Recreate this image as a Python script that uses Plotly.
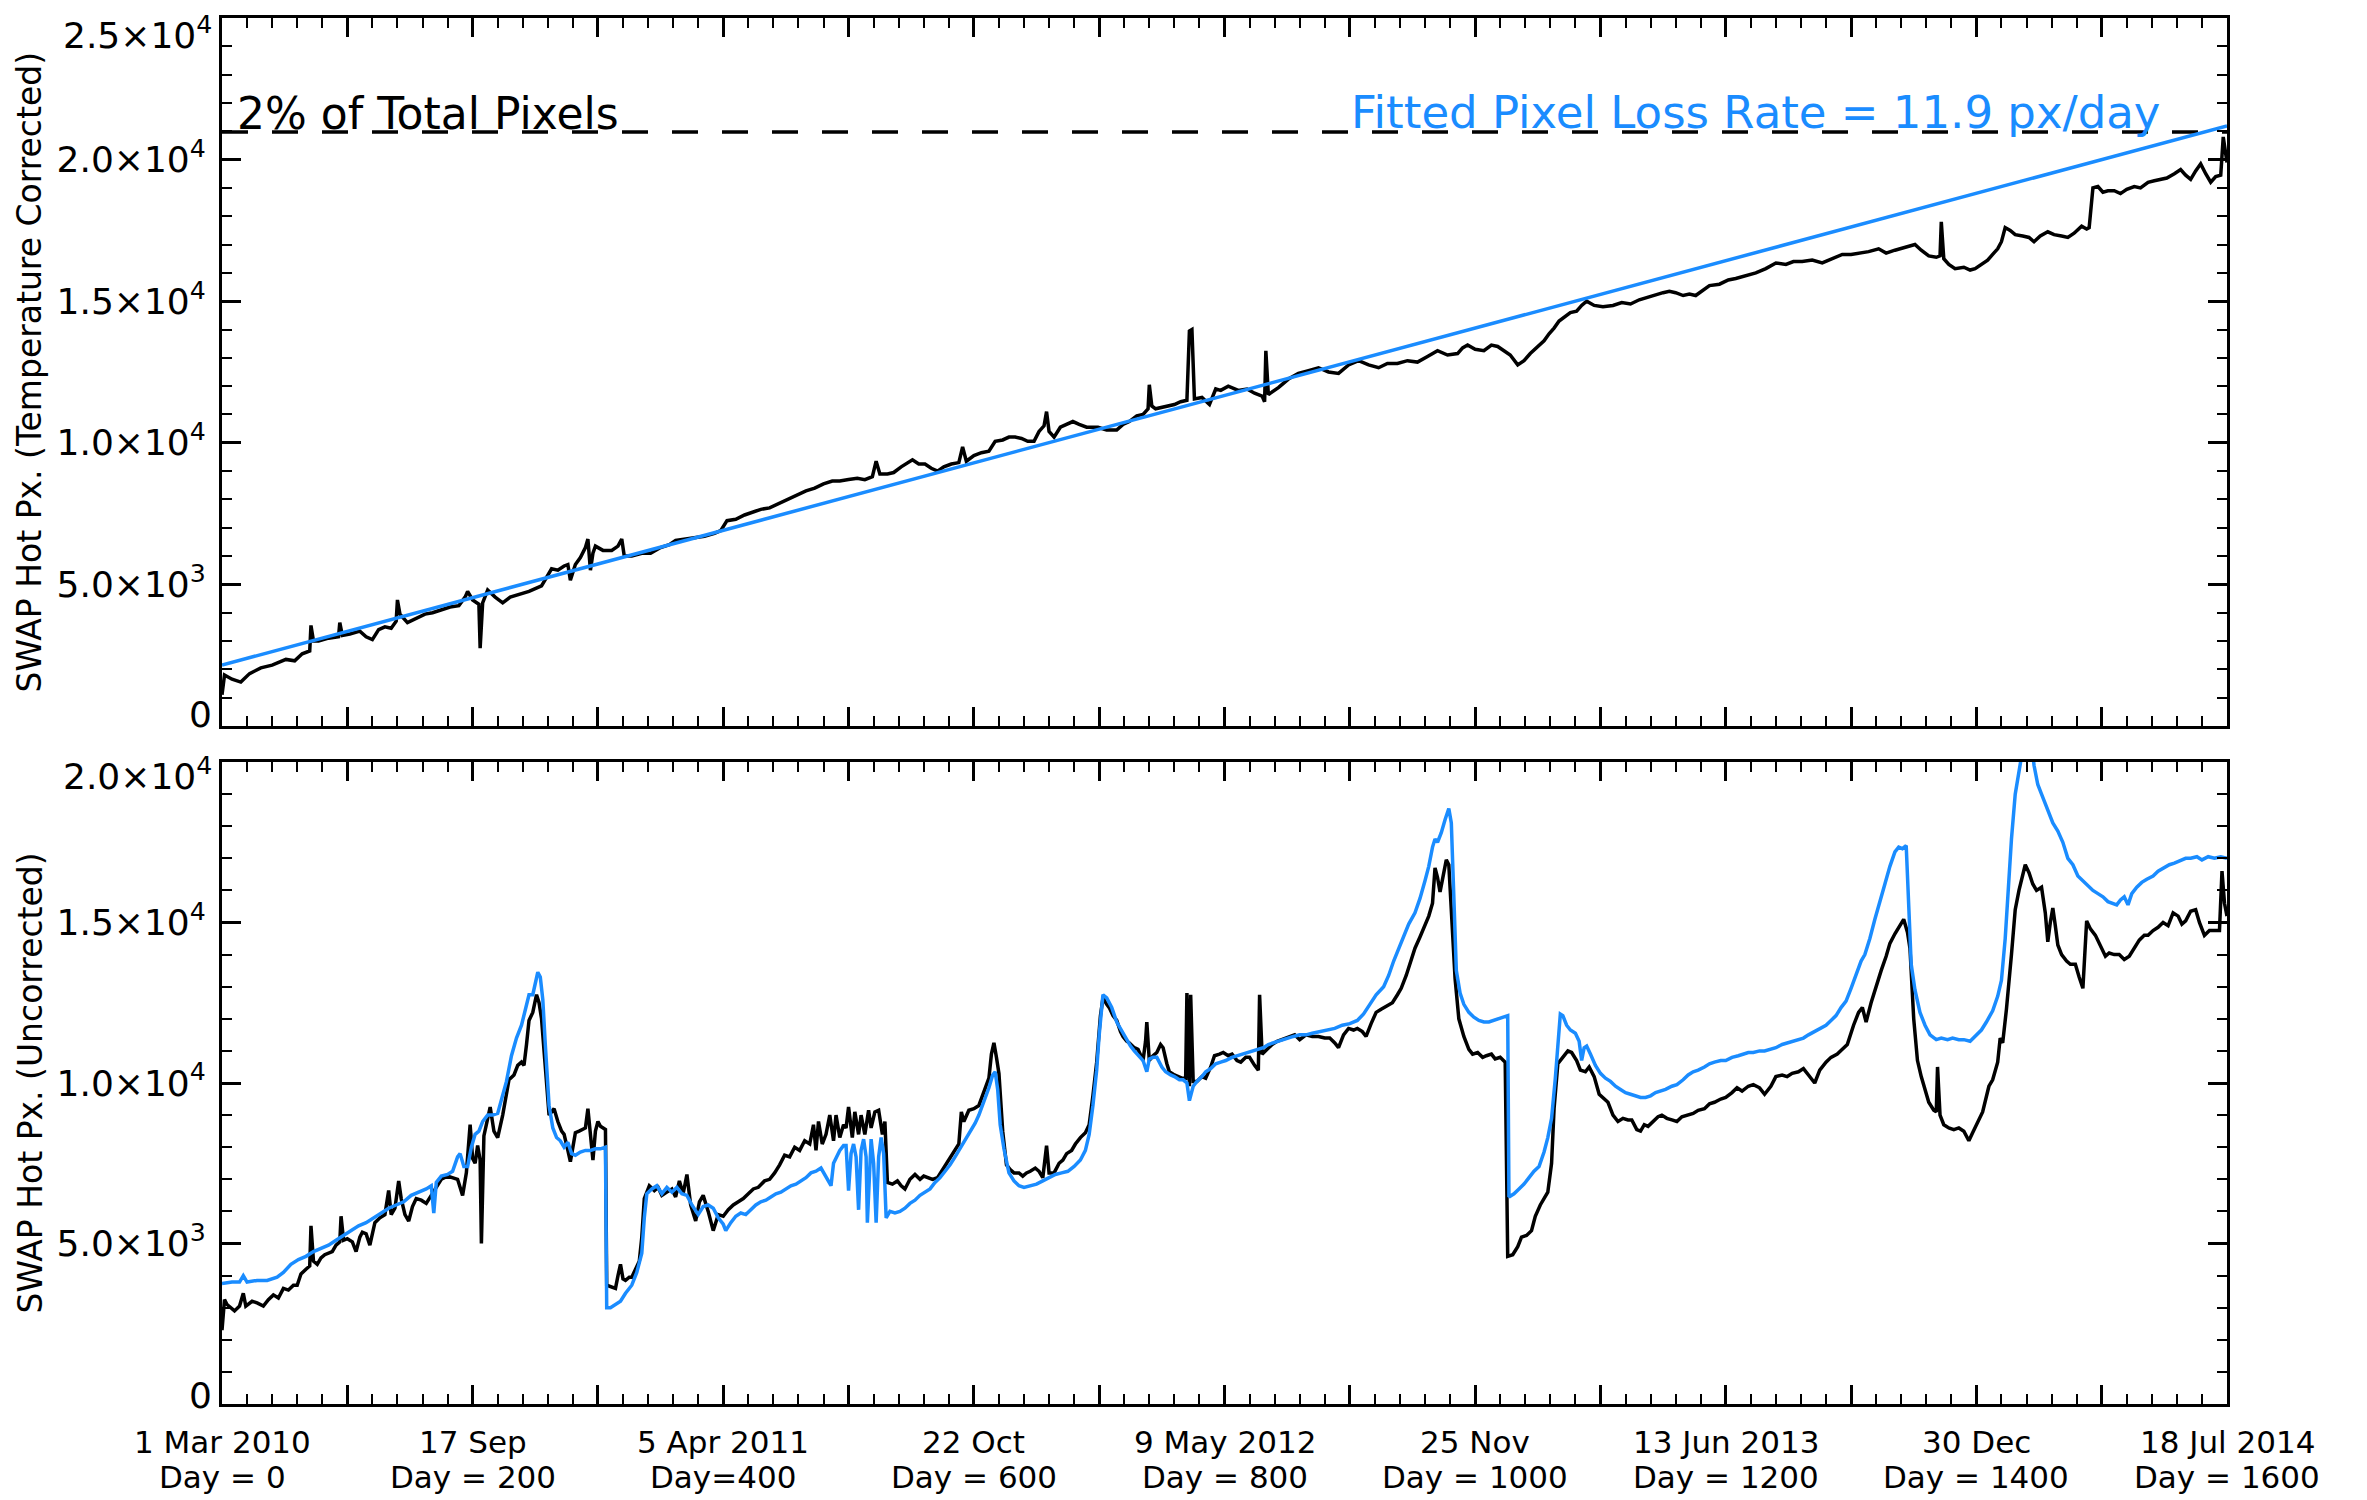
import plotly.graph_objects as go

BLUE = '#1a8cff'
FONT = 'DejaVu Sans'

# --- top panel: temperature corrected hot pixel count ---
corr_days = [0, 2, 8, 15, 22, 31, 40, 51, 58, 64, 70, 71, 73, 77, 85, 93, 94, 96, 102, 110,
             115, 120, 125, 130, 135, 139, 140, 142, 148, 155, 162, 168, 175, 182, 189, 194, 196, 200, 205, 206,
             208, 212, 218, 224, 230, 238, 245, 255, 260, 263, 268, 273, 276, 278, 282, 286, 290, 292, 294, 296,
             298, 304, 311, 316, 319, 321, 327, 335, 342, 350, 357, 362, 370, 378, 385, 393, 398, 403, 410, 417,
             423, 430, 437, 444, 451, 459, 466, 473, 480, 487, 493, 500, 507, 513, 519, 522, 525, 531, 536, 542,
             547, 551, 556, 561, 566, 571, 576, 582, 588, 591, 594, 600, 606, 612, 617, 623, 628, 633, 638, 643,
             648, 652, 656, 658, 660, 664, 669, 674, 679, 684, 690, 699, 706, 714, 719, 724, 730, 735, 739, 740,
             742, 745, 750, 755, 760, 765, 770, 772, 774, 776, 782, 788, 793, 797, 803, 811, 818, 824, 830, 832,
             833, 835, 843, 851, 859, 867, 875, 883, 891, 899, 907, 915, 923, 930, 938, 946, 954, 962, 970, 978,
             986, 990, 994, 1000, 1007, 1013, 1018, 1023, 1028, 1034, 1039, 1044, 1050, 1055, 1059, 1063, 1067, 1071, 1076, 1081,
             1085, 1089, 1095, 1102, 1110, 1117, 1124, 1131, 1138, 1145, 1150, 1155, 1160, 1166, 1171, 1176, 1182, 1187, 1195, 1202,
             1208, 1216, 1224, 1232, 1240, 1248, 1254, 1261, 1269, 1277, 1285, 1293, 1300, 1307, 1314, 1322, 1328, 1335, 1342, 1351,
             1356, 1362, 1368, 1371, 1372, 1374, 1378, 1383, 1390, 1395, 1399, 1404, 1409, 1413, 1417, 1420, 1423, 1427, 1431, 1437,
             1442, 1446, 1451, 1457, 1462, 1468, 1473, 1478, 1484, 1488, 1490, 1493, 1497, 1501, 1505, 1510, 1515, 1520, 1526, 1531,
             1537, 1542, 1547, 1552, 1558, 1563, 1567, 1571, 1575, 1579, 1583, 1587, 1591, 1595, 1597, 1598, 1600]
corr_px = [1100, 1800, 1650, 1550, 1850, 2050, 2150, 2350, 2300, 2550, 2650, 3550, 3000, 3000, 3100, 3150, 3650, 3200, 3250, 3350,
           3150, 3050, 3400, 3500, 3450, 3700, 4450, 3950, 3650, 3800, 3950, 4000, 4100, 4200, 4250, 4550, 4750, 4450, 4300, 2750,
           4350, 4800, 4550, 4350, 4550, 4650, 4750, 4950, 5300, 5550, 5500, 5650, 5700, 5150, 5700, 5950, 6300, 6600, 5500, 6100,
           6350, 6200, 6200, 6350, 6600, 6000, 6000, 6100, 6100, 6300, 6400, 6550, 6600, 6650, 6700, 6800, 6900, 7250, 7300, 7450,
           7550, 7650, 7700, 7850, 8000, 8150, 8300, 8400, 8550, 8650, 8650, 8700, 8750, 8700, 8800, 9350, 8900, 8900, 8950, 9150,
           9300, 9400, 9250, 9250, 9100, 9000, 9150, 9250, 9300, 9850, 9350, 9550, 9650, 9700, 10050, 10100, 10200, 10200, 10150, 10050,
           10050, 10400, 10600, 11100, 10400, 10200, 10550, 10650, 10750, 10650, 10550, 10550, 10450, 10450, 10650, 10750, 10950, 11000, 11200, 12050,
           11300, 11200, 11250, 11300, 11350, 11450, 11500, 13950, 14000, 11550, 11600, 11350, 11900, 11850, 12000, 11850, 11900, 11750, 11650, 11450,
           13250, 11700, 11950, 12250, 12450, 12550, 12650, 12500, 12450, 12750, 12900, 12750, 12650, 12800, 12800, 12900, 12850, 13050, 13250, 13100,
           13150, 13350, 13450, 13300, 13250, 13450, 13400, 13250, 13100, 12750, 12900, 13150, 13400, 13600, 13850, 14050, 14300, 14450, 14600, 14650,
           14850, 15000, 14850, 14800, 14850, 14950, 14900, 15050, 15150, 15250, 15300, 15350, 15300, 15200, 15250, 15200, 15400, 15550, 15600, 15750,
           15800, 15900, 16000, 16150, 16350, 16300, 16400, 16400, 16450, 16350, 16500, 16650, 16650, 16700, 16750, 16850, 16700, 16800, 16900, 17000,
           16800, 16600, 16550, 16600, 17800, 16500, 16300, 16150, 16200, 16100, 16150, 16300, 16450, 16650, 16850, 17100, 17600, 17500, 17350, 17300,
           17250, 17100, 17300, 17450, 17350, 17300, 17250, 17400, 17650, 17550, 17600, 19000, 19050, 18850, 18900, 18900, 18800, 18950, 19050, 19000,
           19200, 19250, 19300, 19350, 19500, 19650, 19450, 19300, 19600, 19850, 19500, 19200, 19400, 19450, 20800, 20500, 19900]

fit_days = [0, 1600]
fit_px = [2150, 21190]
limit_days = [0, 1600]
limit_px = [20972, 20972]

# --- bottom panel: uncorrected counts (black) and blue comparison series ---
raw_days = [0, 2, 4, 7, 10, 14, 17, 19, 24, 28, 33, 37, 41, 45, 49, 53, 57, 60, 63, 67,
            70, 71, 73, 76, 79, 82, 85, 88, 91, 94, 95, 97, 100, 104, 107, 110, 112, 115, 118, 122,
            126, 130, 133, 135, 138, 141, 143, 146, 149, 152, 155, 159, 163, 167, 171, 175, 180, 184, 188, 192,
            195, 198, 200, 202, 204, 206, 207, 209, 212, 214, 217, 220, 224, 227, 229, 233, 236, 239, 241, 243,
            245, 248, 251, 253, 255, 258, 261, 265, 268, 271, 273, 276, 278, 280, 282, 285, 288, 290, 292, 294,
            296, 298, 300, 302, 304, 306, 307, 310, 314, 316, 318, 320, 322, 325, 327, 330, 333, 335, 337, 341,
            345, 348, 351, 355, 359, 362, 365, 368, 371, 374, 378, 381, 384, 388, 392, 396, 400, 404, 408, 412,
            416, 420, 424, 428, 433, 437, 441, 445, 449, 453, 457, 461, 465, 469, 472, 474, 476, 479, 482, 485,
            488, 490, 493, 496, 498, 500, 503, 505, 508, 510, 513, 516, 518, 521, 524, 527, 529, 531, 535, 539,
            542, 545, 549, 553, 557, 560, 563, 567, 571, 575, 580, 584, 588, 590, 592, 596, 600, 604, 608, 612,
            614, 616, 618, 620, 623, 626, 629, 632, 636, 639, 642, 645, 649, 652, 655, 658, 660, 664, 668, 671,
            674, 678, 681, 685, 689, 692, 695, 698, 701, 703, 706, 708, 711, 714, 717, 719, 722, 724, 728, 731,
            735, 737, 738, 740, 743, 746, 749, 751, 754, 756, 760, 763, 766, 769, 770, 772, 773, 775, 778, 782,
            785, 789, 792, 796, 799, 803, 806, 810, 813, 817, 820, 824, 827, 828, 830, 834, 838, 842, 846, 850,
            856, 860, 865, 870, 875, 880, 884, 888, 891, 895, 899, 903, 906, 910, 913, 917, 921, 925, 930, 934,
            938, 941, 945, 948, 952, 956, 959, 963, 966, 968, 970, 972, 974, 977, 979, 981, 984, 987, 991, 995,
            998, 1002, 1006, 1009, 1013, 1016, 1020, 1024, 1026, 1030, 1034, 1037, 1041, 1045, 1048, 1052, 1055, 1058, 1061, 1063,
            1066, 1068, 1071, 1074, 1077, 1081, 1084, 1088, 1091, 1095, 1099, 1103, 1106, 1110, 1114, 1118, 1122, 1125, 1129, 1132,
            1135, 1138, 1142, 1146, 1149, 1153, 1157, 1161, 1165, 1169, 1174, 1178, 1183, 1187, 1191, 1196, 1200, 1205, 1209, 1213,
            1218, 1222, 1227, 1231, 1236, 1240, 1245, 1249, 1253, 1258, 1262, 1266, 1271, 1275, 1280, 1284, 1289, 1293, 1297, 1302,
            1306, 1309, 1312, 1316, 1320, 1324, 1328, 1331, 1335, 1339, 1342, 1345, 1347, 1350, 1353, 1356, 1359, 1362, 1366, 1368,
            1369, 1371, 1374, 1378, 1382, 1386, 1390, 1394, 1397, 1401, 1405, 1410, 1413, 1417, 1419, 1421, 1424, 1428, 1431, 1434,
            1437, 1439, 1442, 1445, 1448, 1452, 1455, 1457, 1459, 1461, 1463, 1465, 1468, 1472, 1475, 1479, 1482, 1485, 1488, 1491,
            1495, 1499, 1503, 1506, 1510, 1514, 1518, 1522, 1526, 1530, 1534, 1537, 1541, 1545, 1549, 1553, 1557, 1561, 1564, 1567,
            1571, 1575, 1578, 1582, 1586, 1590, 1594, 1596, 1598, 1600]
raw_px = [2300, 3250, 3100, 3000, 2900, 3050, 3450, 3050, 3200, 3150, 3050, 3250, 3400, 3300, 3600, 3550, 3700, 3700, 4050, 4200,
          4300, 5550, 4450, 4350, 4550, 4650, 4700, 4750, 4950, 5050, 5850, 5100, 5150, 5050, 4750, 5200, 5350, 5300, 4950, 5650,
          5800, 5900, 6650, 5900, 6100, 6950, 6400, 5900, 5700, 6150, 6400, 6350, 6250, 6500, 6700, 7000, 7100, 7050, 7000, 6500,
          7200, 8700, 7650, 7500, 8050, 7600, 5000, 8350, 8900, 9250, 8500, 8300, 9000, 9600, 10100, 10250, 10550, 10650, 10550, 11200,
          11950, 12200, 12750, 12500, 12000, 10500, 9000, 9200, 8800, 8500, 8400, 7900, 7550, 8000, 8450, 8500, 8550, 8600, 9200, 8400,
          7600, 8500, 8800, 8650, 8600, 8550, 3700, 3650, 3600, 4000, 4350, 3900, 3850, 3950, 3950, 4200, 4450, 5200, 6400, 6800,
          6650, 6750, 6500, 6600, 6700, 6450, 6950, 6550, 7150, 6200, 5700, 6300, 6500, 6000, 5400, 5900, 5850, 6050, 6200, 6300,
          6400, 6550, 6700, 6750, 6950, 7000, 7200, 7450, 7750, 7700, 8000, 7900, 8200, 8100, 8700, 7900, 8800, 8100, 8400, 9000,
          8200, 9000, 8300, 8700, 8600, 9250, 8300, 9100, 8400, 9000, 8400, 9150, 8600, 9100, 9150, 8400, 8800, 6900, 6850, 6950,
          6800, 6700, 7000, 7150, 7000, 7100, 7050, 7000, 7050, 7300, 7650, 7900, 8100, 9100, 8800, 9150, 9200, 9300, 9700, 10150,
          10900, 11250, 10800, 10300, 8500, 7450, 7300, 7200, 7200, 7100, 7200, 7250, 7350, 7250, 7050, 8050, 7200, 7200, 7500, 7600,
          7800, 7900, 8100, 8300, 8450, 8700, 9600, 10650, 12100, 12650, 12450, 12350, 12100, 11950, 11600, 11450, 11300, 11250, 11100, 11050,
          10700, 11300, 11900, 10700, 10850, 10950, 11200, 11100, 10600, 10350, 10250, 10200, 10150, 10150, 12800, 9900, 12750, 10050, 10050, 10200,
          10150, 10500, 10850, 10900, 10950, 10850, 10900, 10700, 10650, 10800, 10800, 10550, 10400, 12750, 10900, 11050, 11200, 11300, 11350, 11400,
          11500, 11350, 11500, 11450, 11450, 11400, 11400, 11250, 11100, 11500, 11700, 11650, 11700, 11600, 11450, 11850, 12200, 12300, 12400, 12500,
          12750, 12950, 13350, 13750, 14200, 14550, 14850, 15200, 15600, 16700, 16400, 15950, 16350, 16950, 16800, 15500, 13250, 12000, 11450, 11050,
          10900, 10950, 10800, 10850, 10900, 10750, 10800, 10650, 4600, 4650, 4900, 5200, 5250, 5400, 5850, 6200, 6400, 6600, 7500, 9200,
          10600, 10700, 10850, 11000, 10950, 10700, 10400, 10350, 10500, 10200, 9650, 9500, 9400, 9000, 8800, 8900, 8850, 8850, 8550, 8500,
          8700, 8650, 8800, 8950, 9000, 8900, 8850, 8800, 8950, 9000, 9050, 9150, 9200, 9350, 9400, 9500, 9550, 9700, 9850, 9750,
          9900, 9950, 9850, 9650, 9900, 10200, 10250, 10200, 10300, 10350, 10450, 10250, 10000, 10400, 10650, 10800, 10900, 11050, 11200, 11800,
          12200, 12350, 11900, 12500, 13050, 13500, 13950, 14350, 14650, 14900, 15100, 14700, 14200, 12000, 10700, 10200, 9800, 9400, 9150, 9100,
          10500, 9000, 8700, 8600, 8550, 8600, 8500, 8200, 8450, 8800, 9100, 9900, 10100, 10650, 11400, 11250, 12300, 14000, 15400, 16000,
          16500, 16800, 16550, 16200, 16000, 16100, 15300, 14400, 15000, 15450, 14900, 14300, 14000, 13800, 13700, 13700, 13300, 12950, 15050, 14800,
          14600, 14300, 13950, 14050, 14000, 14000, 13850, 13950, 14200, 14450, 14600, 14600, 14750, 14850, 15000, 14900, 15300, 15200, 14950, 15050,
          15350, 15400, 15000, 14600, 14750, 14750, 14750, 16600, 15600, 15200]

model_days = [0, 8, 14, 17, 20, 28, 36, 44, 49, 55, 61, 67, 73, 79, 85, 91, 97, 103, 109, 115,
              121, 127, 133, 139, 145, 151, 157, 163, 167, 169, 171, 175, 180, 184, 188, 190, 193, 196, 199, 202,
              205, 208, 212, 216, 220, 224, 227, 231, 235, 239, 242, 245, 248, 250, 252, 254, 256, 258, 261, 264,
              267, 270, 273, 276, 279, 282, 286, 290, 294, 298, 302, 306, 307, 310, 314, 318, 322, 327, 331, 335,
              337, 339, 343, 347, 351, 355, 359, 363, 367, 371, 375, 378, 380, 384, 388, 392, 396, 400, 402, 406,
              410, 414, 418, 422, 426, 430, 434, 438, 442, 446, 450, 454, 458, 462, 466, 470, 474, 478, 482, 486,
              488, 490, 493, 496, 498, 500, 502, 504, 506, 508, 510, 512, 514, 515, 517, 518, 520, 522, 524, 526,
              528, 530, 533, 537, 541, 545, 549, 553, 557, 561, 565, 569, 573, 577, 581, 585, 589, 593, 597, 601,
              604, 608, 612, 615, 617, 619, 621, 624, 628, 632, 636, 640, 645, 650, 655, 660, 665, 670, 675, 680,
              685, 689, 692, 695, 698, 700, 703, 706, 710, 714, 717, 721, 725, 728, 732, 735, 738, 740, 743, 746,
              750, 753, 757, 760, 764, 767, 770, 772, 775, 778, 782, 785, 789, 793, 797, 801, 806, 810, 814, 818,
              822, 827, 831, 835, 839, 843, 849, 855, 860, 865, 870, 876, 882, 888, 894, 900, 906, 911, 916, 921,
              927, 931, 935, 939, 943, 947, 952, 956, 960, 963, 966, 968, 970, 973, 976, 979, 981, 983, 985, 988,
              991, 995, 999, 1003, 1007, 1011, 1015, 1019, 1023, 1026, 1027, 1031, 1035, 1039, 1043, 1047, 1051, 1055, 1058, 1061,
              1064, 1066, 1068, 1070, 1073, 1076, 1080, 1083, 1085, 1087, 1089, 1092, 1096, 1100, 1104, 1108, 1112, 1116, 1120, 1124,
              1128, 1132, 1136, 1140, 1144, 1148, 1152, 1157, 1161, 1166, 1170, 1174, 1178, 1183, 1187, 1191, 1196, 1200, 1205, 1210,
              1214, 1218, 1222, 1227, 1231, 1236, 1240, 1245, 1249, 1253, 1258, 1262, 1266, 1271, 1275, 1280, 1284, 1288, 1292, 1296,
              1300, 1304, 1308, 1311, 1315, 1319, 1323, 1327, 1331, 1335, 1338, 1341, 1344, 1346, 1348, 1351, 1355, 1359, 1363, 1368,
              1372, 1377, 1381, 1386, 1390, 1395, 1399, 1404, 1408, 1413, 1417, 1420, 1423, 1426, 1428, 1431, 1434, 1437, 1441, 1444,
              1446, 1449, 1452, 1455, 1458, 1461, 1465, 1469, 1473, 1477, 1481, 1485, 1489, 1493, 1497, 1501, 1505, 1509, 1512, 1515,
              1518, 1521, 1524, 1528, 1532, 1536, 1541, 1545, 1549, 1554, 1558, 1563, 1567, 1571, 1576, 1580, 1585, 1590, 1595, 1600]
model_px = [3750, 3800, 3800, 4000, 3800, 3850, 3850, 3950, 4100, 4350, 4500, 4600, 4750, 4850, 4950, 5100, 5250, 5400, 5550, 5650,
            5800, 5950, 6100, 6200, 6300, 6500, 6600, 6700, 6800, 5950, 6900, 7100, 7150, 7250, 7700, 7800, 7400, 7400, 8000, 8400,
            8500, 8800, 9000, 9000, 9050, 9600, 10050, 10850, 11400, 11800, 12300, 12750, 12750, 13100, 13450, 13300, 12600, 11200, 9300, 8600,
            8300, 8200, 8000, 8150, 7800, 7750, 7850, 7900, 7900, 7950, 7950, 8000, 3000, 3000, 3100, 3200, 3450, 3700, 4100, 4700,
            5800, 6550, 6700, 6800, 6550, 6750, 6600, 6750, 6550, 6500, 6200, 6000, 5900, 6150, 6200, 6100, 5800, 5600, 5400, 5650,
            5850, 5950, 5900, 6050, 6200, 6300, 6350, 6450, 6550, 6600, 6700, 6800, 6850, 6950, 7050, 7200, 7250, 7350, 7100, 6800,
            7500, 7650, 7900, 8050, 8050, 6650, 7800, 8100, 7700, 6050, 7900, 8250, 7700, 5650, 7800, 8250, 7500, 5650, 7700, 8300,
            7800, 5800, 6000, 5950, 6000, 6100, 6250, 6350, 6500, 6600, 6700, 6900, 7050, 7250, 7450, 7700, 7950, 8200, 8450, 8750,
            9000, 9400, 9850, 10250, 10350, 9800, 8700, 7950, 7200, 6950, 6800, 6750, 6800, 6850, 6950, 7050, 7150, 7200, 7250, 7400,
            7600, 7900, 8400, 9300, 10400, 11500, 12750, 12650, 12350, 11900, 11700, 11400, 11150, 11000, 10850, 10700, 10350, 10750, 10800, 10800,
            10500, 10350, 10250, 10200, 10100, 10100, 10000, 9450, 9900, 10050, 10200, 10350, 10450, 10600, 10650, 10700, 10800, 10850, 10900, 10950,
            11000, 11050, 11100, 11200, 11250, 11300, 11400, 11450, 11500, 11500, 11550, 11600, 11650, 11700, 11800, 11850, 11950, 12150, 12450, 12750,
            13000, 13350, 13800, 14200, 14550, 14950, 15300, 15750, 16300, 16750, 17350, 17600, 17500, 17800, 18200, 18550, 18100, 15500, 13500, 12800,
            12450, 12200, 12050, 11950, 11900, 11900, 11950, 12000, 12050, 12100, 6450, 6550, 6700, 6850, 7050, 7250, 7400, 7850, 8300, 8900,
            10150, 11300, 12150, 12100, 11800, 11650, 11550, 11300, 10700, 11100, 11150, 10900, 10550, 10300, 10150, 10050, 9900, 9800, 9700, 9650,
            9600, 9550, 9550, 9600, 9700, 9750, 9800, 9900, 9950, 10100, 10250, 10350, 10400, 10500, 10600, 10650, 10700, 10700, 10800, 10850,
            10900, 10950, 10950, 11000, 11000, 11050, 11100, 11200, 11250, 11300, 11350, 11400, 11500, 11600, 11700, 11800, 11950, 12100, 12350, 12550,
            12950, 13400, 13800, 14000, 14500, 15100, 15700, 16200, 16750, 17200, 17350, 17300, 17400, 15500, 13700, 12900, 12200, 11800, 11500, 11350,
            11400, 11350, 11400, 11350, 11350, 11300, 11450, 11650, 11900, 12250, 12700, 13200, 14500, 16500, 17600, 19000, 19800, 20400, 21000, 20600,
            19900, 19300, 19000, 18700, 18400, 18100, 17850, 17500, 17000, 16800, 16450, 16300, 16150, 16000, 15900, 15800, 15650, 15600, 15550, 15700,
            15800, 15550, 15900, 16100, 16250, 16350, 16450, 16600, 16700, 16800, 16850, 16950, 17000, 17000, 17050, 16950, 17050, 17000, 17050, 17000]

# --- axis labels ---
x_major = [0, 100, 200, 300, 400, 500, 600, 700, 800, 900, 1000, 1100, 1200, 1300, 1400, 1500, 1600]
label_days = [0, 200, 400, 600, 800, 1000, 1200, 1400, 1600]
label_dates = ['1 Mar 2010', '17 Sep', '5 Apr 2011', '22 Oct', '9 May 2012',
               '25 Nov', '13 Jun 2013', '30 Dec', '18 Jul 2014']
label_day_text = ['Day = 0', 'Day = 200', 'Day=400', 'Day = 600', 'Day = 800',
                  'Day = 1000', 'Day = 1200', 'Day = 1400', 'Day = 1600']
top_yvals = [0, 5000, 10000, 15000, 20000, 25000]
top_ytext = ['0', '5.0×10<sup>3</sup>', '1.0×10<sup>4</sup>', '1.5×10<sup>4</sup>',
             '2.0×10<sup>4</sup>', '2.5×10<sup>4</sup>']
bot_yvals = [0, 5000, 10000, 15000, 20000]
bot_ytext = ['0', '5.0×10<sup>3</sup>', '1.0×10<sup>4</sup>', '1.5×10<sup>4</sup>',
             '2.0×10<sup>4</sup>']

TICK_SIZE = 36
LABEL_SIZE = 31
TITLE_SIZE = 33

fig = go.Figure()

fig.add_trace(go.Scatter(x=limit_days, y=limit_px, mode='lines',
                         line=dict(color='black', width=3.5, dash='26px,24px'),
                         xaxis='x', yaxis='y', hoverinfo='skip'))
fig.add_trace(go.Scatter(x=corr_days, y=corr_px, mode='lines',
                         line=dict(color='black', width=3.5),
                         xaxis='x', yaxis='y'))
fig.add_trace(go.Scatter(x=fit_days, y=fit_px, mode='lines',
                         line=dict(color=BLUE, width=3.5),
                         xaxis='x', yaxis='y'))

fig.add_trace(go.Scatter(x=raw_days, y=raw_px, mode='lines',
                         line=dict(color='black', width=3.5),
                         xaxis='x2', yaxis='y2'))
fig.add_trace(go.Scatter(x=model_days, y=model_px, mode='lines',
                         line=dict(color=BLUE, width=3.5),
                         xaxis='x2', yaxis='y2'))

xaxis_style = dict(
    range=[0, 1600],
    tickmode='array',
    tickvals=x_major,
    showticklabels=False,
    ticks='inside',
    ticklen=19,
    tickwidth=2.5,
    tickcolor='black',
    minor=dict(tick0=0, dtick=20, ticks='inside', ticklen=10, tickwidth=2, tickcolor='black'),
    showline=True,
    linecolor='black',
    linewidth=3,
    mirror='allticks',
    showgrid=False,
    zeroline=False,
    automargin=False,
)

yaxis_style = dict(
    tickmode='array',
    ticks='inside',
    ticklen=19,
    tickwidth=2.5,
    tickcolor='black',
    minor=dict(tick0=0, dtick=1000, ticks='inside', ticklen=10, tickwidth=2, tickcolor='black'),
    showline=True,
    linecolor='black',
    linewidth=3,
    mirror='allticks',
    showgrid=False,
    zeroline=False,
    tickfont=dict(family=FONT, size=TICK_SIZE, color='black'),
    ticklabelstandoff=6,
    automargin=False,
)

# end labels of each y axis sit nudged inside the frame (annotations below),
# the axis itself only writes the inner ones
top_in = [(v, t) for v, t in zip(top_yvals, top_ytext) if 0 < v < 25000]
bot_in = [(v, t) for v, t in zip(bot_yvals, bot_ytext) if 0 < v < 20000]

# the page body adds an 8px offset, so the margins are shifted to compensate
fig.update_layout(
    width=2367,
    height=1500,
    paper_bgcolor='white',
    plot_bgcolor='white',
    showlegend=False,
    margin=dict(l=214, r=148, t=10, b=104, autoexpand=False),
    font=dict(family=FONT, color='black'),
    xaxis=dict(xaxis_style, anchor='y'),
    yaxis=dict(yaxis_style, domain=[0.4892, 1], range=[0, 25000],
               tickvals=[v for v, t in top_in], ticktext=[t for v, t in top_in], anchor='x'),
    xaxis2=dict(xaxis_style, anchor='y2'),
    yaxis2=dict(yaxis_style, domain=[0, 0.4632], range=[0, 20000],
                tickvals=[v for v, t in bot_in], ticktext=[t for v, t in bot_in], anchor='x2'),
)

annotations = []
for d, date_txt, day_txt in zip(label_days, label_dates, label_day_text):
    annotations.append(dict(x=d, y=0, xref='x2', yref='paper', text=date_txt,
                            showarrow=False, xanchor='center', yanchor='middle',
                            yshift=-38, font=dict(family=FONT, size=LABEL_SIZE, color='black')))
    annotations.append(dict(x=d, y=0, xref='x2', yref='paper', text=day_txt,
                            showarrow=False, xanchor='center', yanchor='middle',
                            yshift=-73, font=dict(family=FONT, size=LABEL_SIZE, color='black')))

end_labels = [('y', top_yvals[0], top_ytext[0], 11), ('y', top_yvals[-1], top_ytext[-1], -15),
              ('y2', bot_yvals[0], bot_ytext[0], 9), ('y2', bot_yvals[-1], bot_ytext[-1], -12)]
for ref, v, txt, shift in end_labels:
    annotations.append(dict(x=0, y=v, xref='paper', yref=ref, text=txt,
                            showarrow=False, xanchor='right', yanchor='middle',
                            xshift=-8, yshift=shift,
                            font=dict(family=FONT, size=TICK_SIZE, color='black')))

annotations += [
    dict(x=-0.096, y=0.7446, xref='paper', yref='paper',
         text='SWAP Hot Px. (Temperature Corrected)', textangle=-90,
         showarrow=False, xanchor='center', yanchor='middle',
         font=dict(family=FONT, size=TITLE_SIZE, color='black')),
    dict(x=-0.096, y=0.2316, xref='paper', yref='paper',
         text='SWAP Hot Px. (Uncorrected)', textangle=-90,
         showarrow=False, xanchor='center', yanchor='middle',
         font=dict(family=FONT, size=TITLE_SIZE, color='black')),
    dict(x=10, y=limit_px[0], xref='x', yref='y', text='2% of Total Pixels',
         showarrow=False, xanchor='left', yanchor='bottom', yshift=-9,
         font=dict(family=FONT, size=44, color='black')),
    dict(x=1548, y=limit_px[0], xref='x', yref='y',
         text='Fitted Pixel Loss Rate = 11.9 px/day',
         showarrow=False, xanchor='right', yanchor='bottom', yshift=-9,
         font=dict(family=FONT, size=45, color=BLUE)),
]
fig.update_layout(annotations=annotations)

fig.write_html('out.html')
